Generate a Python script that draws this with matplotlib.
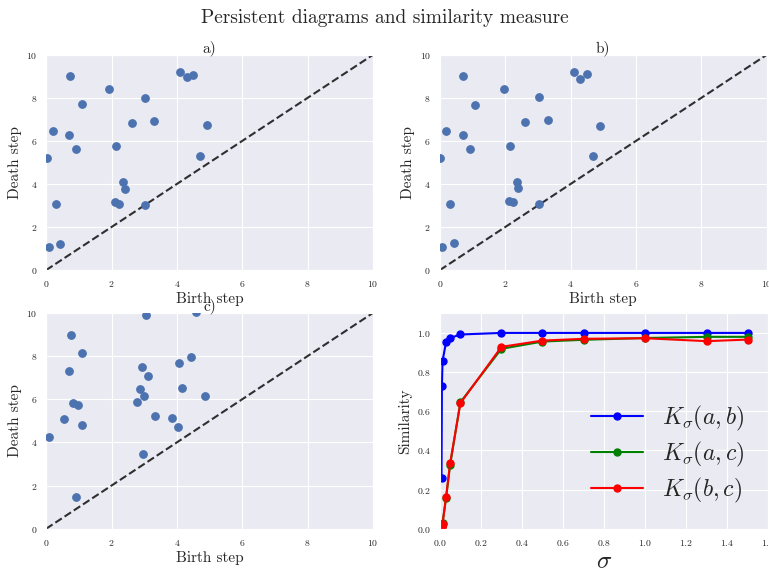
import numpy as np
import matplotlib
matplotlib.use('Agg')
import matplotlib.pyplot as plt
import seaborn as sns

sns.set_style('darkgrid')
plt.rcParams['font.family'] = ['cmr10', 'DejaVu Serif']
plt.rcParams['mathtext.fontset'] = 'cm'
plt.rcParams['axes.formatter.use_mathtext'] = True

# persistence diagrams (birth, death)
birth_a = [0.72, 1.92, 1.10, 0.21, 0.71, 0.92, 0.03, 2.13, 2.62, 3.02, 3.31, 4.10,
           4.30, 4.48, 4.93, 4.70, 2.35, 2.41, 2.10, 2.23, 3.03, 0.31, 0.09, 0.43]
death_a = [9.00, 8.40, 7.71, 6.44, 6.27, 5.61, 5.19, 5.77, 6.83, 8.01, 6.93, 9.20,
           8.97, 9.06, 6.72, 5.28, 4.08, 3.78, 3.18, 3.09, 3.03, 3.06, 1.05, 1.22]

birth_b = [0.71, 1.95, 1.09, 0.20, 0.71, 0.91, 0.00, 2.14, 2.61, 3.04, 3.30, 4.09,
           4.29, 4.49, 4.91, 4.69, 2.35, 2.40, 2.10, 2.25, 3.02, 0.30, 0.08, 0.43]
death_b = [9.00, 8.41, 7.69, 6.44, 6.28, 5.63, 5.20, 5.78, 6.88, 8.02, 6.97, 9.20,
           8.89, 9.09, 6.70, 5.30, 4.09, 3.81, 3.20, 3.14, 3.08, 3.08, 1.08, 1.25]

birth_c = [3.05, 4.58, 0.75, 1.10, 0.69, 2.92, 3.11, 4.05, 4.42, 2.88, 4.17, 2.99,
           2.78, 4.87, 0.82, 0.99, 0.54, 1.10, 3.33, 3.86, 4.03, 0.09, 2.95, 0.90]
death_c = [9.88, 10.03, 8.99, 8.12, 7.33, 7.50, 7.08, 7.68, 7.95, 6.49, 6.52, 6.16,
           5.89, 6.13, 5.83, 5.72, 5.09, 4.82, 5.21, 5.15, 4.73, 4.23, 3.48, 1.46]

# similarity vs sigma
sigma = [0.008, 0.01, 0.013, 0.03, 0.05, 0.1, 0.3, 0.5, 0.7, 1.0, 1.3, 1.5]
k_ab = [0.26, 0.73, 0.855, 0.95, 0.972, 0.99, 0.998, 0.998, 0.998, 0.998, 0.998, 0.998]
k_ac = [0.015, 0.02, 0.03, 0.155, 0.325, 0.645, 0.917, 0.954, 0.963, 0.972, 0.978, 0.978]
k_bc = [0.01, 0.015, 0.025, 0.16, 0.335, 0.64, 0.927, 0.959, 0.968, 0.971, 0.956, 0.964]

diagrams = [(birth_a, death_a, 'a)'), (birth_b, death_b, 'b)'), (birth_c, death_c, 'c)')]

fig = plt.figure(figsize=(7.69, 5.71), dpi=100)
fig.suptitle('Persistent diagrams and similarity measure', fontsize=14, y=0.985)

boxes = [[0.060, 0.527, 0.425, 0.377],
         [0.572, 0.527, 0.425, 0.377],
         [0.060, 0.074, 0.425, 0.378],
         [0.572, 0.074, 0.427, 0.378]]

for idx, (b, d, t) in enumerate(diagrams):
    ax = fig.add_axes(boxes[idx])
    ax.scatter(b, d, s=28, color='#4C72B0', zorder=3)
    ax.plot([0, 10], [0, 10], 'k--', alpha=0.8, lw=1.5)
    ax.set_xlim(0, 10)
    ax.set_ylim(0, 10)
    ax.set_xticks(np.arange(0, 11, 2))
    ax.set_yticks(np.arange(0, 11, 2))
    ax.tick_params(labelsize=7, pad=3)
    ax.set_title(t, fontsize=11, pad=2)
    ax.set_xlabel('Birth step', fontsize=11, labelpad=2)
    ax.set_ylabel('Death step', fontsize=11, labelpad=3)

ax4 = fig.add_axes(boxes[3])
ax4.plot(sigma, k_ab, 'b-o', lw=1.5, ms=5, label=r'$K_\sigma(a,b)$')
ax4.plot(sigma, k_ac, 'g-o', lw=1.5, ms=5, label=r'$K_\sigma(a,c)$')
ax4.plot(sigma, k_bc, 'r-o', lw=1.5, ms=5, label=r'$K_\sigma(b,c)$')
ax4.set_xlim(0, 1.6)
ax4.set_ylim(0, 1.1)
ax4.set_xticks(np.arange(0, 1.61, 0.2))
ax4.set_yticks(np.arange(0, 1.01, 0.2))
ax4.tick_params(labelsize=7, pad=3)
ax4.set_xlabel(r'$\sigma$', fontsize=18, labelpad=2)
ax4.set_ylabel('Similarity', fontsize=11, labelpad=3)
ax4.legend(loc='lower right', fontsize=17, frameon=False, labelspacing=0.3,
           handlelength=2.2, borderaxespad=0.6)

fig.savefig('out.png', dpi=100)
